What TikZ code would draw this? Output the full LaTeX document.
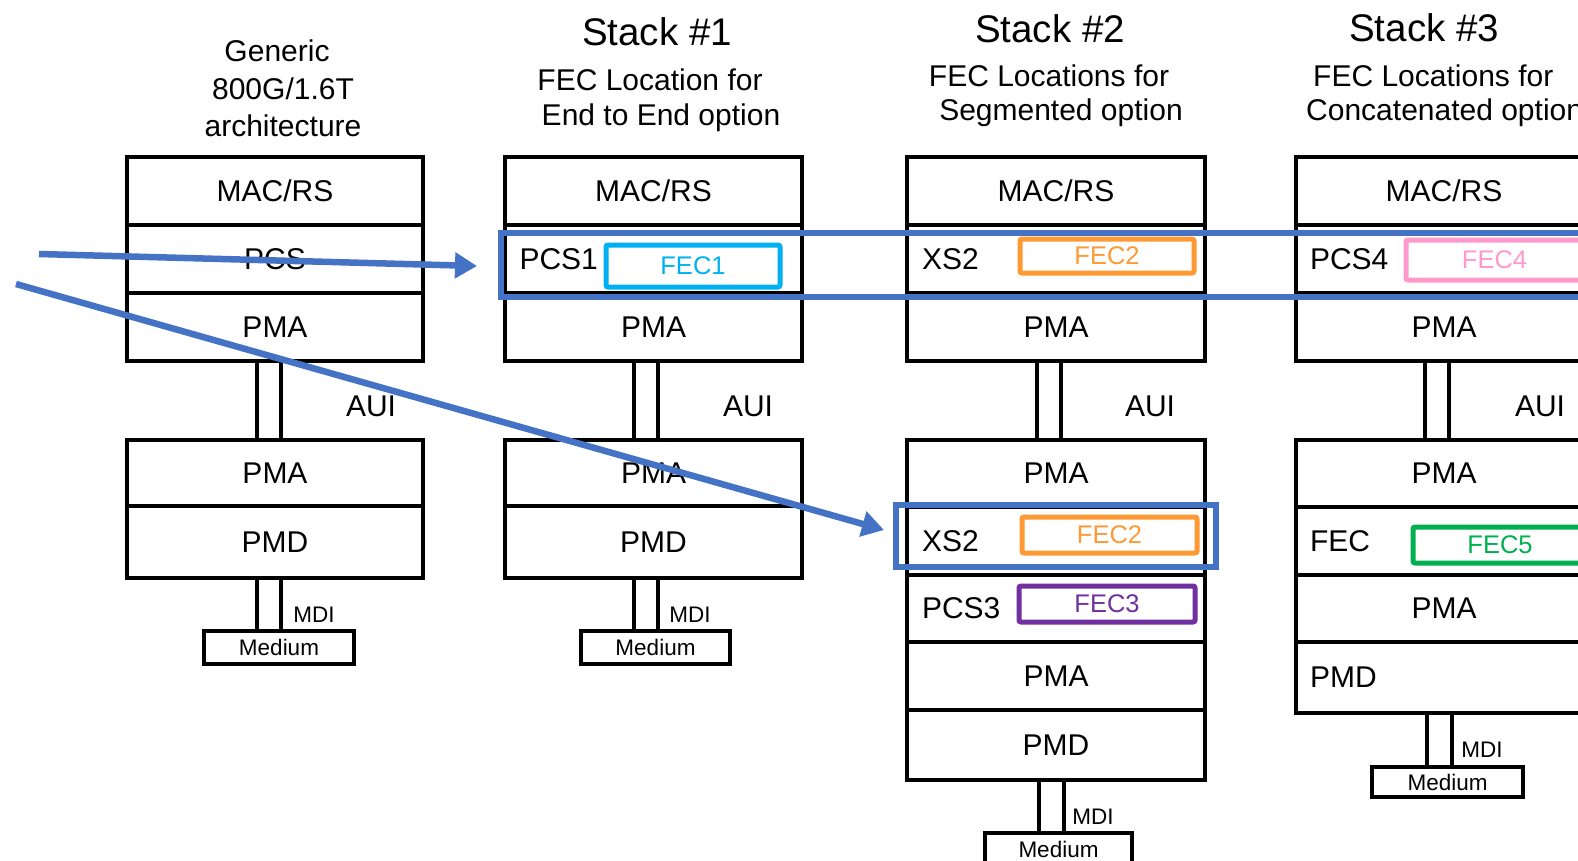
\documentclass[tikz,border=0pt]{standalone}
\usepackage{fontspec}
\setmainfont{Liberation Sans}
\usetikzlibrary{arrows.meta,calc}
\definecolor{hl}{HTML}{4472C4}
\definecolor{fecA}{HTML}{00B0F0}
\definecolor{fecB}{HTML}{FF9933}
\definecolor{fecC}{HTML}{7030A0}
\definecolor{fecD}{HTML}{FF99CC}
\definecolor{fecE}{HTML}{00B050}
\begin{document}
\begin{tikzpicture}[x=1pt,y=-1pt,
  layer/.style={draw, line width=3.5pt, inner sep=0pt, outer sep=0pt, minimum width=296pt, font=\fontsize{30}{34}\selectfont},
  lft/.style={text width=268pt, align=left},
  medium/.style={draw, line width=3.5pt, inner sep=0pt, outer sep=0pt, font=\fontsize{22.5}{26}\selectfont},
  small/.style={inner sep=0pt, font=\fontsize{22.5}{26}\selectfont},
  link/.style={line width=3.5pt},
  lbl/.style={inner sep=0pt, font=\fontsize{30}{34}\selectfont},
  ttl/.style={inner sep=0pt, font=\fontsize{38.5}{42}\selectfont},
  fecbox/.style={draw, line width=5pt, rounded corners=2pt, inner sep=0pt, outer sep=0pt, font=\fontsize{25.5}{30}\selectfont},
  hlbox/.style={draw=hl, line width=6pt, inner sep=0pt, outer sep=0pt},
  hlarrow/.style={draw=hl, line width=6.5pt, -{Triangle[length=22pt,width=25pt]}}
]
\clip (0,0) rectangle (1578,861);

% ---------- titles ----------
\node[lbl] (t0a) at (277,51) {Generic};
\node[lbl] (t0b) at (283,89) {800G/1.6T};
\node[lbl] (t0c) at (283,126) {architecture};
\node[ttl] (t1) at (657,32) {Stack \#1};
\node[lbl] (t1a) at (650,80) {FEC Location for};
\node[lbl] (t1b) at (661,118) {End to End option};
\node[ttl] (t2) at (1050,29) {Stack \#2};
\node[lbl] (t2a) at (1049,76) {FEC Locations for};
\node[lbl] (t2b) at (1061,113) {Segmented option};
\node[ttl, anchor=west] (t3) at (1349,28) {Stack \#3};
\node[lbl, anchor=west] (t3a) at (1313,76) {FEC Locations for};
\node[lbl, anchor=west] (t3b) at (1306,113) {Concatenated option};

% ---------- generic ----------
\node[layer, minimum height=68pt] (gmac) at (275,191) {MAC/RS};
\node[layer, minimum height=68pt] (gpcs) at (275,259) {PCS};
\node[layer, minimum height=68pt] (gpma) at (275,327) {PMA};
\node[layer, minimum height=66pt] (gpma2) at (275,473) {PMA};
\node[layer, minimum height=72pt] (gpmd) at (275,542) {PMD};
\node[medium, minimum width=150pt, minimum height=33pt] (gmed) at (279,647.5) {Medium};
\draw[link] (257,0 |- gpma.south) -- (257,0 |- gpma2.north);
\draw[link] (281,0 |- gpma.south) -- (281,0 |- gpma2.north);
\draw[link] (257,0 |- gpmd.south) -- (257,0 |- gmed.north);
\draw[link] (281,0 |- gpmd.south) -- (281,0 |- gmed.north);
\node[lbl] (gaui) at (371,406) {AUI};
\node[small] (gmdi) at (314,615) {MDI};

% ---------- stack 1 ----------
\node[layer, minimum width=297pt, minimum height=68pt] (amac) at (653.5,191) {MAC/RS};
\node[layer, lft, minimum width=297pt, minimum height=68pt] (apcs) at (653.5,259) {PCS1};
\node[layer, minimum width=297pt, minimum height=68pt] (apma) at (653.5,327) {PMA};
\node[layer, minimum width=297pt, minimum height=66pt] (apma2) at (653.5,473) {PMA};
\node[layer, minimum width=297pt, minimum height=72pt] (apmd) at (653.5,542) {PMD};
\node[medium, minimum width=149pt, minimum height=33pt] (amed) at (655.5,647.5) {Medium};
\node[fecbox, draw=fecA, text=fecA, minimum width=174pt, minimum height=42pt] (afec) at (693,266) {FEC1};
\draw[link] (634,0 |- apma.south) -- (634,0 |- apma2.north);
\draw[link] (658,0 |- apma.south) -- (658,0 |- apma2.north);
\draw[link] (634,0 |- apmd.south) -- (634,0 |- amed.north);
\draw[link] (658,0 |- apmd.south) -- (658,0 |- amed.north);
\node[lbl] (aaui) at (748,406) {AUI};
\node[small] (amdi) at (690,615) {MDI};

% ---------- stack 2 ----------
\node[layer, minimum width=298pt, minimum height=68pt] (bmac) at (1056,191) {MAC/RS};
\node[layer, lft, minimum width=298pt, minimum height=68pt] (bxs) at (1056,259) {XS2};
\node[layer, minimum width=298pt, minimum height=68pt] (bpma) at (1056,327) {PMA};
\node[layer, minimum width=298pt, minimum height=67pt] (bpma2) at (1056,473.5) {PMA};
\node[layer, lft, minimum width=298pt, minimum height=68pt] (bxs2) at (1056,541) {XS2};
\node[layer, lft, minimum width=298pt, minimum height=67pt] (bpcs) at (1056,608.5) {PCS3};
\node[layer, minimum width=298pt, minimum height=68pt] (bpma3) at (1056,676) {PMA};
\node[layer, minimum width=298pt, minimum height=70pt] (bpmd) at (1056,745) {PMD};
\node[medium, minimum width=147pt, minimum height=33pt] (bmed) at (1058.5,849.5) {Medium};
\node[fecbox, draw=fecB, text=fecB, minimum width=174pt, minimum height=34pt] (bfec) at (1107,256) {FEC2};
\node[fecbox, draw=fecB, text=fecB, minimum width=175pt, minimum height=36pt] (bfec2) at (1109.5,535) {FEC2};
\node[fecbox, draw=fecC, text=fecC, minimum width=176pt, minimum height=36pt] (bfec3) at (1107,604) {FEC3};
\draw[link] (1037,0 |- bpma.south) -- (1037,0 |- bpma2.north);
\draw[link] (1061,0 |- bpma.south) -- (1061,0 |- bpma2.north);
\draw[link] (1039,0 |- bpmd.south) -- (1039,0 |- bmed.north);
\draw[link] (1064,0 |- bpmd.south) -- (1064,0 |- bmed.north);
\node[lbl] (baui) at (1150,406) {AUI};
\node[small] (bmdi) at (1093,817) {MDI};

% ---------- stack 3 ----------
\node[layer, minimum height=68pt] (cmac) at (1444,191) {MAC/RS};
\node[layer, lft, minimum height=68pt] (cpcs) at (1444,259) {PCS4};
\node[layer, minimum height=68pt] (cpma) at (1444,327) {PMA};
\node[layer, minimum height=67pt] (cpma2) at (1444,473.5) {PMA};
\node[layer, lft, minimum height=68pt] (cfec) at (1444,541) {FEC};
\node[layer, minimum height=67pt] (cpma3) at (1444,608.5) {PMA};
\node[layer, lft, minimum height=71pt] (cpmd) at (1444,677.5) {PMD};
\node[medium, minimum width=151pt, minimum height=30pt] (cmed) at (1447.5,782) {Medium};
\node[fecbox, draw=fecD, text=fecD, minimum width=177pt, minimum height=40pt] (cfec4) at (1494.5,260) {FEC4};
\node[fecbox, draw=fecE, text=fecE, minimum width=174pt, minimum height=36pt] (cfec5) at (1500,545) {FEC5};
\draw[link] (1425,0 |- cpma.south) -- (1425,0 |- cpma2.north);
\draw[link] (1449,0 |- cpma.south) -- (1449,0 |- cpma2.north);
\draw[link] (1427,0 |- cpmd.south) -- (1427,0 |- cmed.north);
\draw[link] (1452,0 |- cpmd.south) -- (1452,0 |- cmed.north);
\node[lbl] (caui) at (1540,406) {AUI};
\node[small] (cmdi) at (1482,750) {MDI};

% ---------- highlights ----------
\node[hlbox, minimum width=1199pt, minimum height=64pt] (hl1) at (1100.5,265) {};
\node[hlbox, minimum width=320pt, minimum height=62.5pt] (hl2) at (1056,535.75) {};

% ---------- arrows ----------
\coordinate (a1s) at (39,254);
\coordinate (a1e) at (477,266);
\coordinate (a2s) at (16,284);
\coordinate (a2e) at (884,530);
\draw[hlarrow] (a1s) -- (a1e);
\draw[hlarrow] (a2s) -- (a2e);
\end{tikzpicture}
\end{document}
